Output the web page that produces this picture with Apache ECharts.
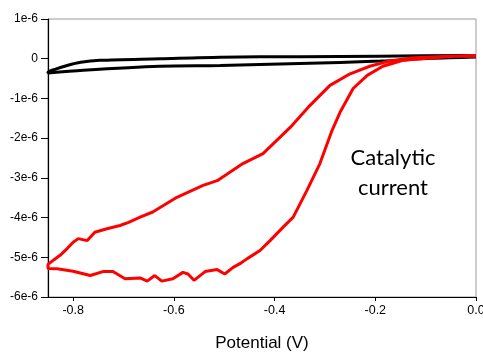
<!DOCTYPE html>
<html>
<head>
<meta charset="utf-8">
<script src="https://cdn.jsdelivr.net/npm/echarts@6/dist/echarts.min.js"></script>
<style>
  html, body { margin: 0; padding: 0; background: #fff; }
  #chart { width: 483px; height: 354px; }
</style>
</head>
<body>
<div id="chart"></div>
<script>
// potential in V, current in units of 1e-6 A
const blackUpperV = [0, -0.191, -0.35, -0.508, -0.628, -0.747, -0.785, -0.812, -0.835, -0.85];
const blackUpperI = [0.08, 0.065, 0.05, 0.04, 0.0, -0.04, -0.09, -0.17, -0.26, -0.34];
const blackLowerV = [-0.85, -0.78, -0.628, -0.508, -0.35, -0.19, -0.09, 0];
const blackLowerI = [-0.36, -0.29, -0.19, -0.17, -0.12, -0.06, 0.01, 0.045];

const redUpperV = [0, -0.052, -0.091, -0.131, -0.171, -0.211, -0.25, -0.29, -0.33, -0.369,
    -0.423, -0.463, -0.514, -0.542, -0.594, -0.642, -0.667, -0.69, -0.707, -0.733,
    -0.757, -0.772, -0.79, -0.8, -0.812, -0.826, -0.838, -0.85];
const redUpperI = [0.07, 0.06, 0.045, 0.015, -0.055, -0.19, -0.38, -0.67, -1.18, -1.73,
    -2.39, -2.64, -3.07, -3.19, -3.49, -3.86, -3.99, -4.12, -4.2, -4.28,
    -4.37, -4.58, -4.53, -4.62, -4.78, -4.95, -5.06, -5.18];
const redLowerV = [-0.85, -0.832, -0.8, -0.766, -0.741, -0.721, -0.697, -0.667, -0.653, -0.638,
    -0.624, -0.602, -0.582, -0.572, -0.56, -0.538, -0.514, -0.499, -0.483, -0.469,
    -0.455, -0.429, -0.409, -0.383, -0.363, -0.336, -0.31, -0.286, -0.27, -0.244,
    -0.216, -0.185, -0.145, -0.091, -0.042, 0];
const redLowerI = [-5.28, -5.29, -5.35, -5.46, -5.36, -5.36, -5.54, -5.52, -5.6, -5.46,
    -5.6, -5.54, -5.38, -5.42, -5.58, -5.36, -5.31, -5.42, -5.26, -5.16,
    -5.04, -4.83, -4.58, -4.24, -3.99, -3.32, -2.64, -1.81, -1.35, -0.75,
    -0.42, -0.19, -0.04, 0.02, 0.06, 0.08];

const xTicks = [-0.8, -0.6, -0.4, -0.2, 0];

function pairs(v, i) {
    return v.map((x, k) => [x, i[k]]);
}

let blackData = pairs(blackUpperV, blackUpperI).concat(pairs(blackLowerV, blackLowerI));
let redData = pairs(redUpperV, redUpperI).concat(pairs(redLowerV, redLowerI));

let option = {
    animation: false,
    grid: {
        left: 48,
        right: 7,
        top: 19,
        bottom: 57,
        outerBoundsMode: 'none',
        containLabel: false,
        show: true,
        borderColor: '#999',
        borderWidth: 1,
    },
    xAxis: {
        type: 'value',
        min: -0.85,
        max: 0,
        name: 'Potential (V)',
        nameLocation: 'middle',
        nameGap: 38,
        nameTextStyle: { fontFamily: 'Liberation Sans', fontSize: 17, color: '#000' },
        axisLine: { onZero: false, lineStyle: { color: '#000', width: 1.2 } },
        axisTick: { length: 4, lineStyle: { color: '#000' }, customValues: xTicks },
        axisLabel: {
            customValues: xTicks,
            margin: 7,
            fontFamily: 'Liberation Sans',
            fontSize: 12.5,
            color: '#000',
            formatter: v => v.toFixed(1),
        },
        splitLine: { show: false },
    },
    yAxis: {
        type: 'value',
        min: -6,
        max: 1,
        interval: 1,
        axisLine: { show: true, onZero: false, lineStyle: { color: '#000', width: 1.2 } },
        axisTick: { show: true, length: 7, lineStyle: { color: '#000' } },
        axisLabel: {
            margin: 10,
            fontFamily: 'Liberation Sans',
            fontSize: 12,
            color: '#000',
            formatter: v => v === 0 ? '0' : v + 'e-6',
        },
        splitLine: { show: false },
    },
    series: [
        {
            type: 'line',
            data: blackData,
            showSymbol: false,
            smooth: 0.3,
            lineStyle: { color: '#000', width: 3 },
        },
        {
            type: 'line',
            data: redData,
            showSymbol: false,
            lineStyle: { color: '#ff0000', width: 3 },
        },
    ],
    graphic: [
        {
            type: 'text',
            x: 393,
            y: 143,
            style: {
                text: 'Catalytic\ncurrent',
                align: 'center',
                fontFamily: 'Lato',
                fontSize: 22,
                lineHeight: 30,
                fill: '#000',
            },
        },
    ],
};

let myChart = echarts.init(document.getElementById('chart'));
myChart.setOption(option);
</script>
</body>
</html>
